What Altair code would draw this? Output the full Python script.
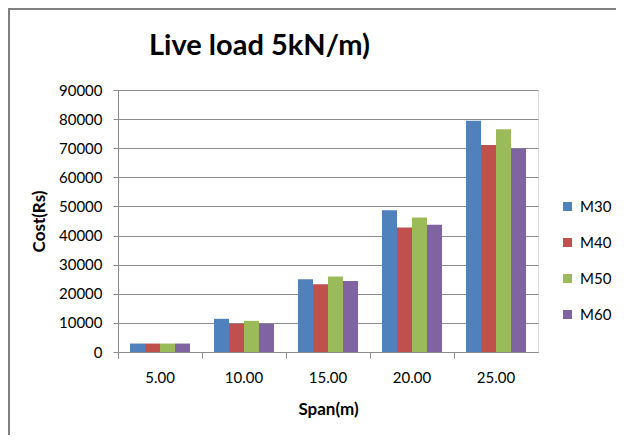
import altair as alt
import pandas as pd

spans = ["5.00", "10.00", "15.00", "20.00", "25.00"]
grades = ["M30", "M40", "M50", "M60"]
m30 = [2900, 11400, 25000, 48700, 79400]
m40 = [2900, 9700, 23300, 42800, 71100]
m50 = [2900, 10700, 25900, 46200, 76500]
m60 = [2900, 9700, 24400, 43700, 69900]
colors = ["#4F81BD", "#C0504D", "#9BBB59", "#8064A2"]
y_ticks = [0, 10000, 20000, 30000, 40000, 50000, 60000, 70000, 80000, 90000]

rows = []
for g, vals in zip(grades, [m30, m40, m50, m60]):
    for s, v in zip(spans, vals):
        rows.append({"Span": s, "Grade": g, "Cost": v})
df = pd.DataFrame(rows)

FONT = "Lato"
x_scale = alt.Scale(domain=spans, paddingInner=0, paddingOuter=0)

bars = alt.Chart(df).mark_bar().encode(
    x=alt.X("Span:N", scale=x_scale, sort=spans,
            axis=alt.Axis(title="Span(m)", labelAngle=0, ticks=False, domain=False,
                          labelFontSize=15, labelPadding=18, labelFont=FONT, labelColor="#000",
                          titleFont=FONT, titleFontSize=17, titleFontWeight="bold",
                          titlePadding=16, titleColor="#000")),
    xOffset=alt.XOffset("Grade:N", sort=grades,
                        scale=alt.Scale(paddingInner=0, paddingOuter=0.8)),
    y=alt.Y("Cost:Q", scale=alt.Scale(domain=[0, 90000], nice=False),
            axis=alt.Axis(title="Cost(Rs)", values=y_ticks, format="d",
                          grid=True, gridColor="#8c8c8c", gridWidth=1,
                          domainColor="#8c8c8c", tickColor="#8c8c8c", tickSize=5,
                          labelFontSize=15, labelFont=FONT, labelColor="#000", labelPadding=11,
                          titleFont=FONT, titleFontSize=17, titleFontWeight="bold",
                          titlePadding=10, titleColor="#000")),
    color=alt.Color("Grade:N", sort=grades,
                    scale=alt.Scale(domain=grades, range=colors),
                    legend=alt.Legend(title=None, orient="none", legendX=442, legendY=109,
                                      symbolType="square", symbolSize=81, symbolStrokeWidth=0,
                                      labelFontSize=15, labelFont=FONT, labelColor="#000",
                                      rowPadding=20, labelOffset=5)),
)

tick_axis = alt.Chart(df).mark_bar(opacity=0).encode(
    x=alt.X("Span:N", scale=x_scale, sort=spans,
            axis=alt.Axis(title=None, labels=False, bandPosition=0, ticks=True, tickSize=6,
                          tickColor="#8c8c8c", domainColor="#8c8c8c", orient="bottom")),
)

border = alt.Chart(alt.Data(values=[{}])).mark_rect(
    fill=None, stroke="#808080", strokeWidth=2, clip=False
).encode(
    x=alt.value(-109), x2=alt.value(600), y=alt.value(-81), y2=alt.value(400)
)

chart = alt.layer(border, bars, tick_axis).resolve_axis(x="independent").properties(
    width=420, height=262,
    autosize=alt.AutoSizeParams(type="none"),
    padding={"left": 110, "top": 82, "right": 78, "bottom": 83},
    title=alt.TitleParams("Live load 5kN/m)", anchor="start", frame="group", dx=31, offset=0,
                          dy=76, baseline="alphabetic",
                          font=FONT, fontSize=29, fontWeight="bold", color="#000"),
).configure_view(strokeWidth=0, stroke="transparent").configure(background="white")

chart.save("out.html", embed_options={"renderer": "svg", "actions": False})
